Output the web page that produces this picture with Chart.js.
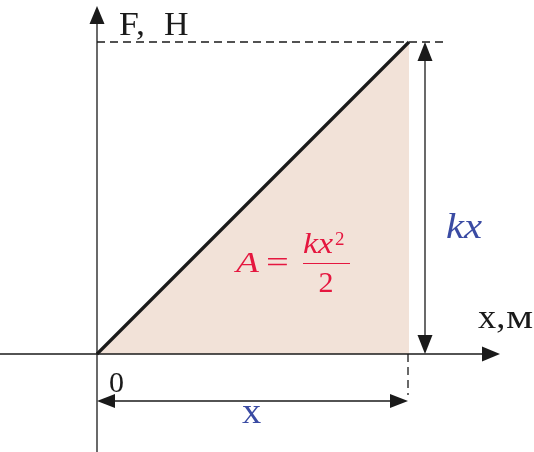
<!DOCTYPE html>
<html><head><meta charset="utf-8">
<script src="https://cdn.jsdelivr.net/npm/chart.js@4.4.1/dist/chart.umd.min.js"></script>
<style>html,body{margin:0;padding:0;background:#fff;overflow:hidden}</style>
</head><body>
<canvas id="c" width="534" height="452"></canvas>
<script>
// Data (relative units): F = k·x, from 0 to the final displacement x
const xValues = [0, 1];
const forceValues = [0, 1];
const axisNames = ['x,м', 'F, Н'];
const originLabel = '0';
const dispLabel = 'x';
const forceLabel = 'kx';

const W = 534, H = 452, OX = 97, OY = 354, U = 312;
const BLUE = '#3a4ba3', RED = '#e5173f', INK = '#1a1a1a';
const SERIF = '"Liberation Serif"';

function arrowHead(ctx, tx, ty, dx, dy, len, half) {
  const nx = -dy, ny = dx;
  ctx.beginPath();
  ctx.moveTo(tx, ty);
  ctx.lineTo(tx - dx * len + nx * half, ty - dy * len + ny * half);
  ctx.lineTo(tx - dx * len - nx * half, ty - dy * len - ny * half);
  ctx.closePath();
  ctx.fill();
}
function scaledText(ctx, t, x, y, sx) {
  ctx.save(); ctx.translate(x, y); ctx.scale(sx, 1); ctx.fillText(t, 0, 0); ctx.restore();
}

const diagram = {
  id: 'diagram',
  afterDatasetsDraw(chart) {
    const ctx = chart.ctx, sx = chart.scales.x, sy = chart.scales.y;
    const px = v => sx.getPixelForValue(v), py = v => sy.getPixelForValue(v);
    const x0 = px(0), y0 = py(0), x1 = px(xValues[1]), y1 = py(forceValues[1]);
    ctx.save();
    ctx.strokeStyle = INK; ctx.fillStyle = INK; ctx.lineWidth = 1.3;
    ctx.setLineDash([8, 5]);
    ctx.beginPath(); ctx.moveTo(x0, y1); ctx.lineTo(x0 + 351, y1); ctx.stroke();
    ctx.beginPath(); ctx.moveTo(x1 - 1, y0); ctx.lineTo(x1 - 1, y0 + 41); ctx.stroke();
    ctx.setLineDash([]);
    ctx.beginPath(); ctx.moveTo(x0, H); ctx.lineTo(x0, 20); ctx.stroke();
    arrowHead(ctx, x0, 6, 0, -1, 18, 7.5);
    ctx.beginPath(); ctx.moveTo(0, y0); ctx.lineTo(485, y0); ctx.stroke();
    arrowHead(ctx, 500, y0, 1, 0, 18, 7.5);
    const ax = x1 + 16;
    ctx.beginPath(); ctx.moveTo(ax, y1 + 15); ctx.lineTo(ax, y0 - 15); ctx.stroke();
    arrowHead(ctx, ax, y1, 0, -1, 19, 7.5);
    arrowHead(ctx, ax, y0, 0, 1, 19, 7.5);
    const ay = y0 + 47;
    ctx.beginPath(); ctx.moveTo(x0 + 15, ay); ctx.lineTo(x1 - 16, ay); ctx.stroke();
    arrowHead(ctx, x0, ay, -1, 0, 18, 7);
    arrowHead(ctx, x1 - 1, ay, 1, 0, 18, 7);
    ctx.textBaseline = 'alphabetic'; ctx.textAlign = 'left';
    ctx.fillStyle = INK;
    ctx.font = '34px ' + SERIF;
    const yn = axisNames[1].split(' ');
    scaledText(ctx, yn[0], 119, 35, 1.05);
    scaledText(ctx, yn[1], 164, 35, 1.0);
    ctx.font = '33px ' + SERIF;
    const xn = axisNames[0].split(',');
    scaledText(ctx, xn[0] + ',', 478, 328, 1.1);
    scaledText(ctx, xn[1], 506, 328, 1.3);
    ctx.font = '30px ' + SERIF;
    ctx.fillText(originLabel, 109, 392);
    ctx.fillStyle = BLUE;
    ctx.font = '35px ' + SERIF;
    scaledText(ctx, dispLabel, 242, 423, 1.1);
    ctx.font = 'italic 36px ' + SERIF;
    scaledText(ctx, forceLabel, 446, 238, 1.13);
    ctx.fillStyle = RED; ctx.strokeStyle = RED;
    ctx.font = 'italic 30px ' + SERIF;
    scaledText(ctx, 'A', 236, 272, 1.25);
    ctx.font = '30px ' + SERIF;
    scaledText(ctx, '=', 266, 272, 1.35);
    ctx.lineWidth = 1.2;
    ctx.beginPath(); ctx.moveTo(303, 263.5); ctx.lineTo(350, 263.5); ctx.stroke();
    ctx.font = 'italic 30px ' + SERIF;
    scaledText(ctx, 'kx', 303, 253, 1.13);
    ctx.font = '19px ' + SERIF;
    ctx.fillText('2', 335, 245);
    ctx.font = '30px ' + SERIF;
    ctx.textAlign = 'center';
    ctx.fillText('2', 326, 292);
    ctx.restore();
  }
};

new Chart(document.getElementById('c'), {
  type: 'line',
  data: {
    datasets: [{
      data: xValues.map((x, i) => ({x, y: forceValues[i]})),
      borderColor: INK,
      borderWidth: 3.2,
      backgroundColor: '#f2e2d8',
      fill: 'origin',
      pointRadius: 0,
      tension: 0
    }]
  },
  options: {
    responsive: false,
    animation: false,
    events: [],
    layout: {padding: 0, autoPadding: false},
    plugins: {legend: {display: false}, tooltip: {enabled: false}},
    scales: {
      x: {type: 'linear', display: false, min: -OX / U, max: (W - OX) / U},
      y: {type: 'linear', display: false, min: -(H - OY) / U, max: OY / U}
    }
  },
  plugins: [diagram]
});
</script>
</body></html>
